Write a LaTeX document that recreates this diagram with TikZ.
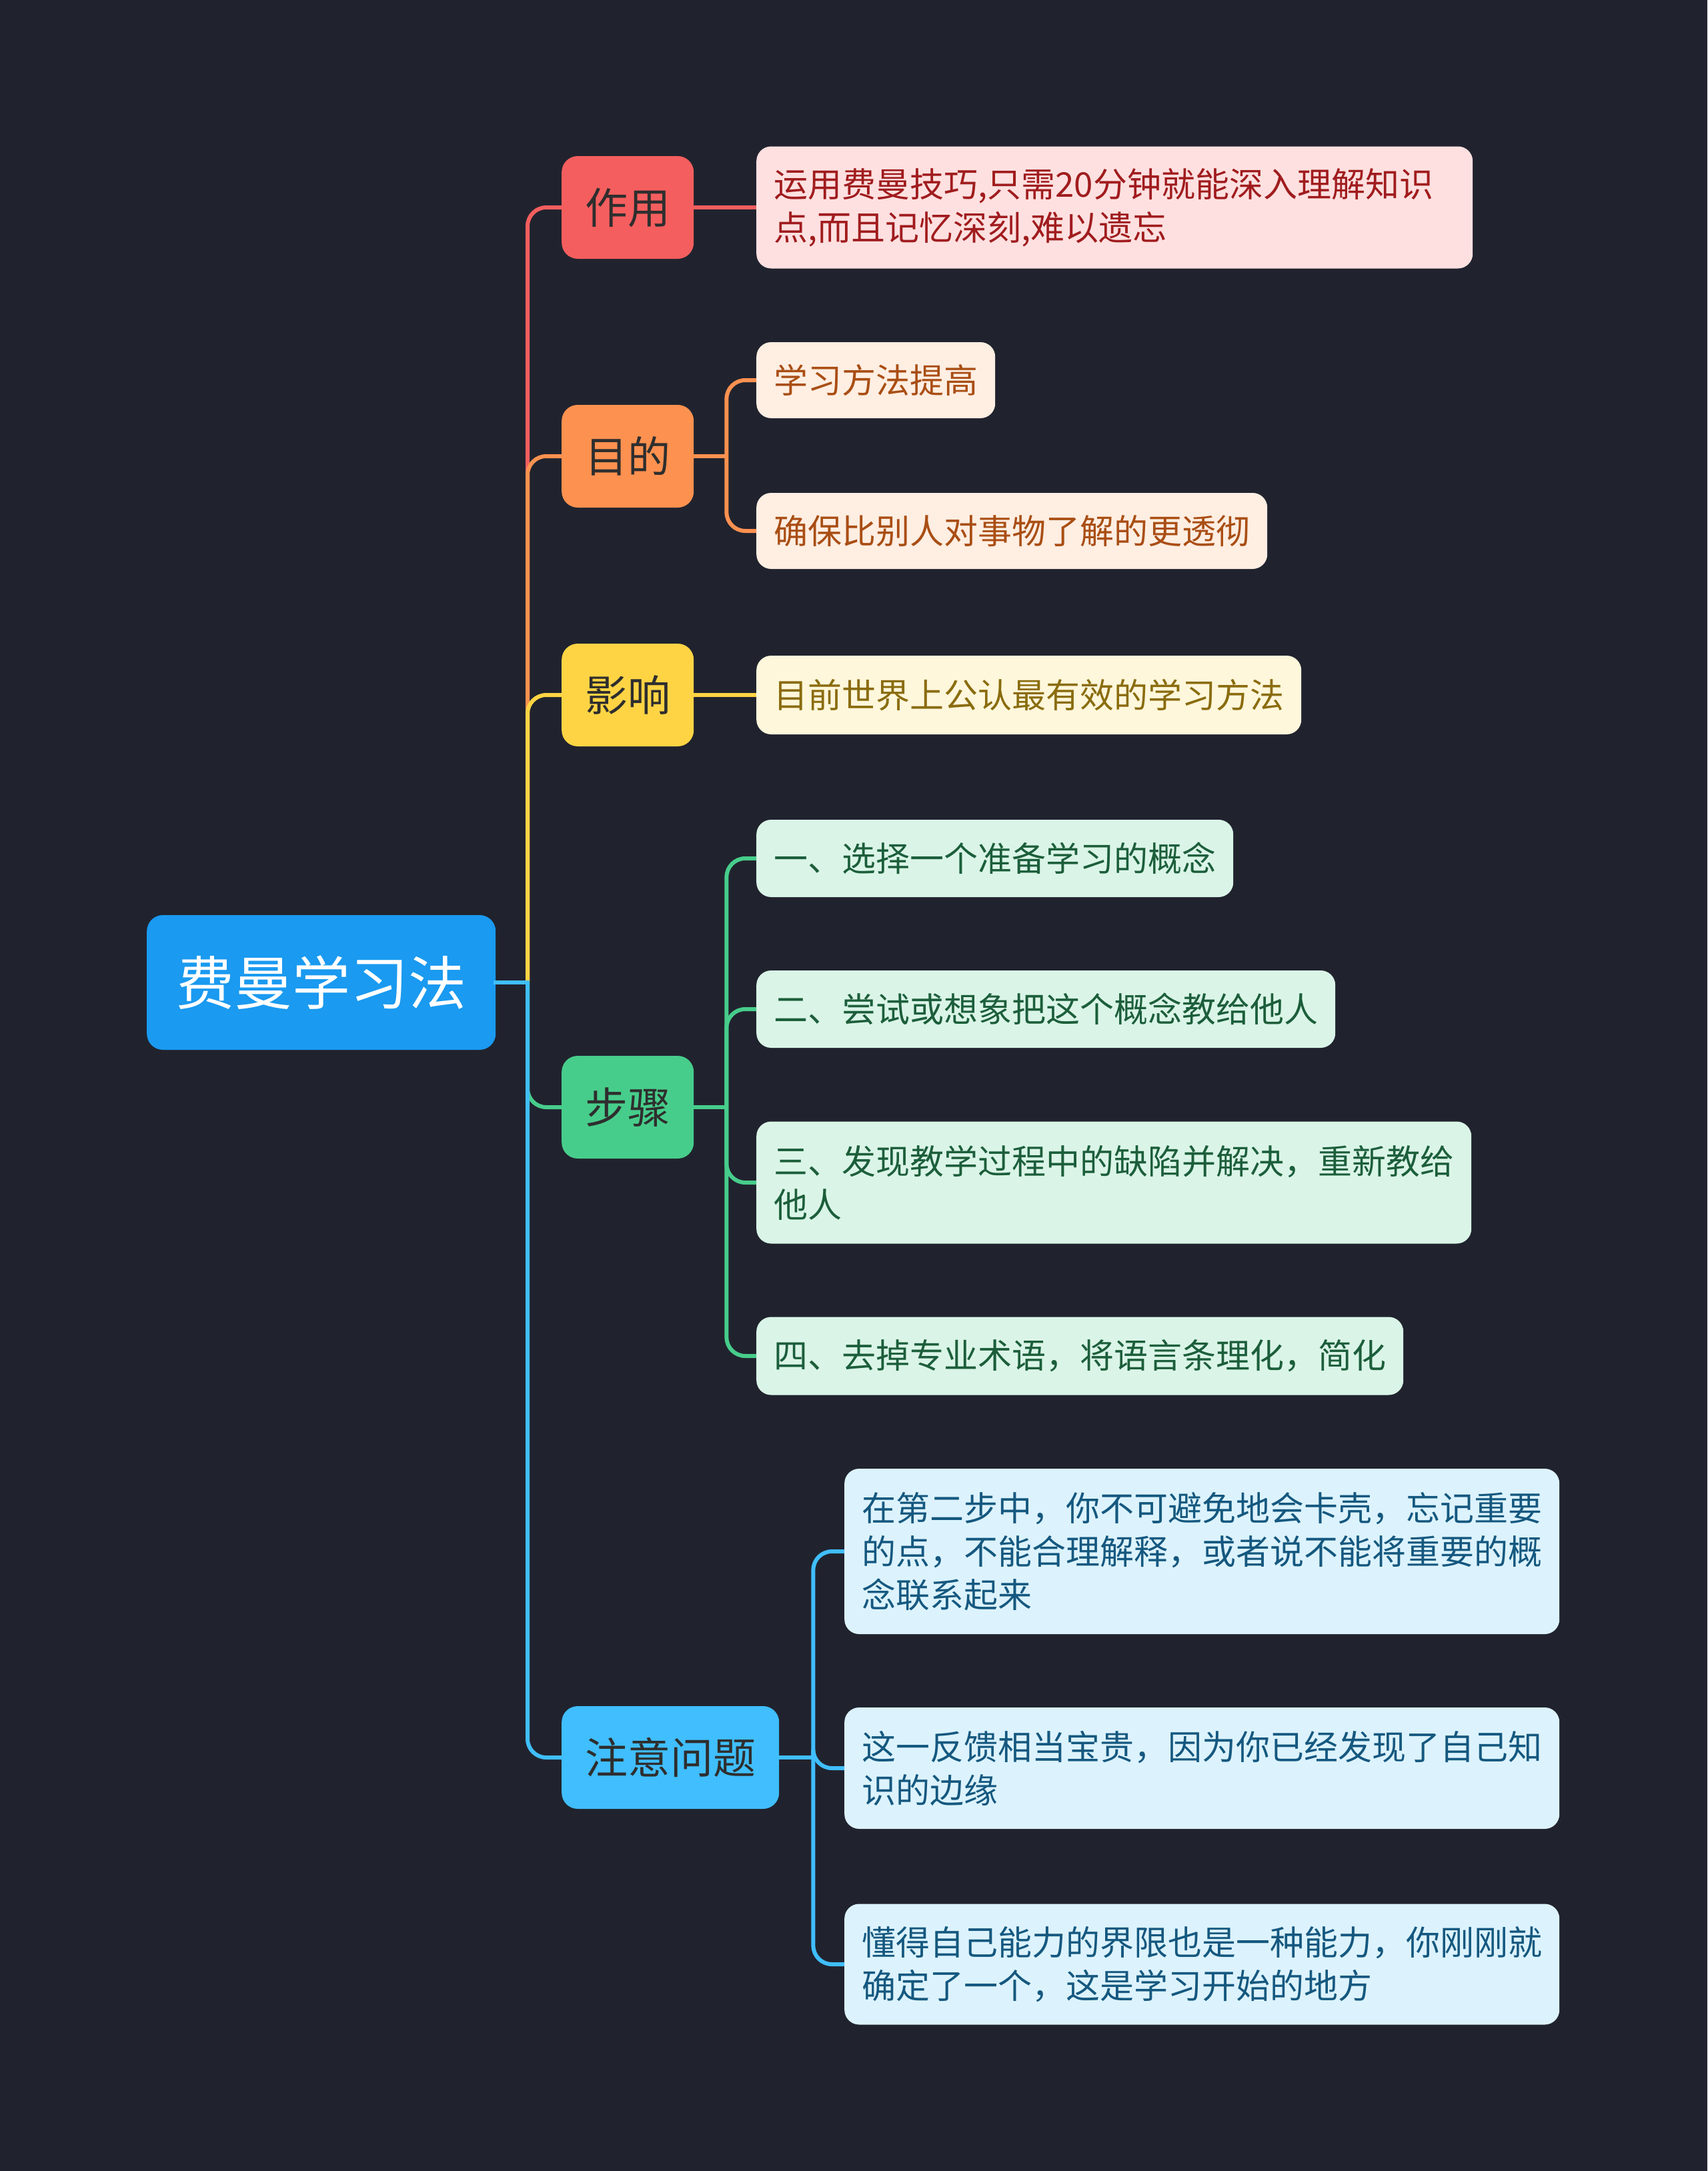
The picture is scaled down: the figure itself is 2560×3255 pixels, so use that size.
\documentclass[tikz,border=0pt]{standalone}
\usepackage{fontspec}
\setmainfont{Noto Sans CJK SC}
\definecolor{bg}{HTML}{20232E}
\definecolor{rootblue}{HTML}{1A9AF0}
\definecolor{cred}{HTML}{F55E5E}
\definecolor{corange}{HTML}{FD9150}
\definecolor{cyellow}{HTML}{FFD444}
\definecolor{cgreen}{HTML}{47CD8B}
\definecolor{cblue}{HTML}{40BEFD}
\definecolor{ltxt}{HTML}{2E2E2E}
\definecolor{fred}{HTML}{FFE0E0}
\definecolor{tred}{HTML}{A01C1E}
\definecolor{forange}{HTML}{FFEEE2}
\definecolor{torange}{HTML}{A94E14}
\definecolor{fyellow}{HTML}{FFF7DB}
\definecolor{tyellow}{HTML}{8A6C0E}
\definecolor{fgreen}{HTML}{DAF5E7}
\definecolor{tgreen}{HTML}{1C5E3B}
\definecolor{fblue}{HTML}{DCF3FE}
\definecolor{tblue}{HTML}{15587F}
\begin{document}
\begin{tikzpicture}[x=1pt,y=-1pt,
  conn/.style={line width=6pt, rounded corners=28pt},
  lone/.style={rounded corners=24pt, inner xsep=35pt, inner ysep=0pt, minimum width=196pt, minimum height=154pt, anchor=west, font=\fontsize{64}{76}\selectfont, text=ltxt},
  ltwo/.style={rounded corners=22pt, inner xsep=26pt, inner ysep=0pt, align=left, anchor=west, font=\fontsize{51}{65}\selectfont},
  tred/.style={ltwo, fill=fred, text=tred},
  torange/.style={ltwo, fill=forange, text=torange},
  tyellow/.style={ltwo, fill=fyellow, text=tyellow},
  tgreen/.style={ltwo, fill=fgreen, text=tgreen},
  tblue/.style={ltwo, fill=fblue, text=tblue}]
\useasboundingbox (0,0) rectangle (2560,3255);
\fill[bg] (0,0) rectangle (2560,3255);

% root
\node[anchor=west, fill=rootblue, text=white, rounded corners=24pt, inner xsep=44pt, inner ysep=0pt, minimum height=202pt, font=\fontsize{87}{100}\selectfont] (root) at (220,1473) {费曼学习法};

% level 1
\node[lone, fill=cred] (zy) at (842,311) {作用};
\node[lone, fill=corange] (md) at (842,684) {目的};
\node[lone, fill=cyellow] (yx) at (842,1042) {影响};
\node[lone, fill=cgreen] (bz) at (842,1660) {步骤};
\node[lone, fill=cblue] (zw) at (842,2635) {注意问题};

% level 2
\node[tred, text width=1022pt, minimum height=183pt] (zyc) at (1134,311) {运用费曼技巧,只需20分钟就能深入理解知识\\点,而且记忆深刻,难以遗忘};
\node[torange, minimum height=114pt] (mdc1) at (1134,570) {学习方法提高};
\node[torange, minimum height=114pt] (mdc2) at (1134,796) {确保比别人对事物了解的更透彻};
\node[tyellow, minimum height=118pt] (yxc) at (1134,1042) {目前世界上公认最有效的学习方法};
\node[tgreen, minimum height=116pt] (bzc1) at (1134,1287) {一、选择一个准备学习的概念};
\node[tgreen, minimum height=116pt] (bzc2) at (1134,1513) {二、尝试或想象把这个概念教给他人};
\node[tgreen, minimum height=183pt] (bzc3) at (1134,1773) {三、发现教学过程中的缺陷并解决，重新教给\\他人};
\node[tgreen, minimum height=117pt] (bzc4) at (1134,2033) {四、去掉专业术语，将语言条理化，简化};
\node[tblue, minimum height=248pt] (zwc1) at (1266,2326) {在第二步中，你不可避免地会卡壳，忘记重要\\的点，不能合理解释，或者说不能将重要的概\\念联系起来};
\node[tblue, minimum height=182pt] (zwc2) at (1266,2651) {这一反馈相当宝贵，因为你已经发现了自己知\\识的边缘};
\node[tblue, minimum height=181pt] (zwc3) at (1266,2945) {懂得自己能力的界限也是一种能力，你刚刚就\\确定了一个，这是学习开始的地方};

% trunk connectors
\coordinate (trunk) at (791,1473);
\draw[conn, cred] (trunk) |- (zy.west);
\draw[conn, corange] (trunk) |- (md.west);
\draw[conn, cyellow] (trunk) |- (yx.west);
\draw[conn, cgreen] (trunk) |- (bz.west);
\draw[conn, cblue] (trunk) |- (zw.west);
\draw[line width=6pt, cblue, line cap=rect] (root.east) -- (trunk);

% level 1 to level 2
\draw[conn, cred] (zy.east) -- (zyc.west);

\coordinate (jmd) at ([xshift=49pt]md.east);
\draw[conn, corange] (md.east) -- (jmd);
\draw[conn, corange] (jmd) |- (mdc1.west);
\draw[conn, corange] (jmd) |- (mdc2.west);

\draw[conn, cyellow] (yx.east) -- (yxc.west);

\coordinate (jbz) at ([xshift=49pt]bz.east);
\draw[conn, cgreen] (bz.east) -- (jbz);
\draw[conn, cgreen] (jbz) |- (bzc1.west);
\draw[conn, cgreen] (jbz) |- (bzc2.west);
\draw[conn, cgreen] (jbz) |- (bzc3.west);
\draw[conn, cgreen] (jbz) |- (bzc4.west);

\coordinate (jzw) at ([xshift=51pt]zw.east);
\draw[conn, cblue] (zw.east) -- (jzw);
\draw[conn, cblue] (jzw) |- (zwc1.west);
\draw[conn, cblue] (jzw) |- (zwc2.west);
\draw[conn, cblue] (jzw) |- (zwc3.west);
\end{tikzpicture}
\end{document}
